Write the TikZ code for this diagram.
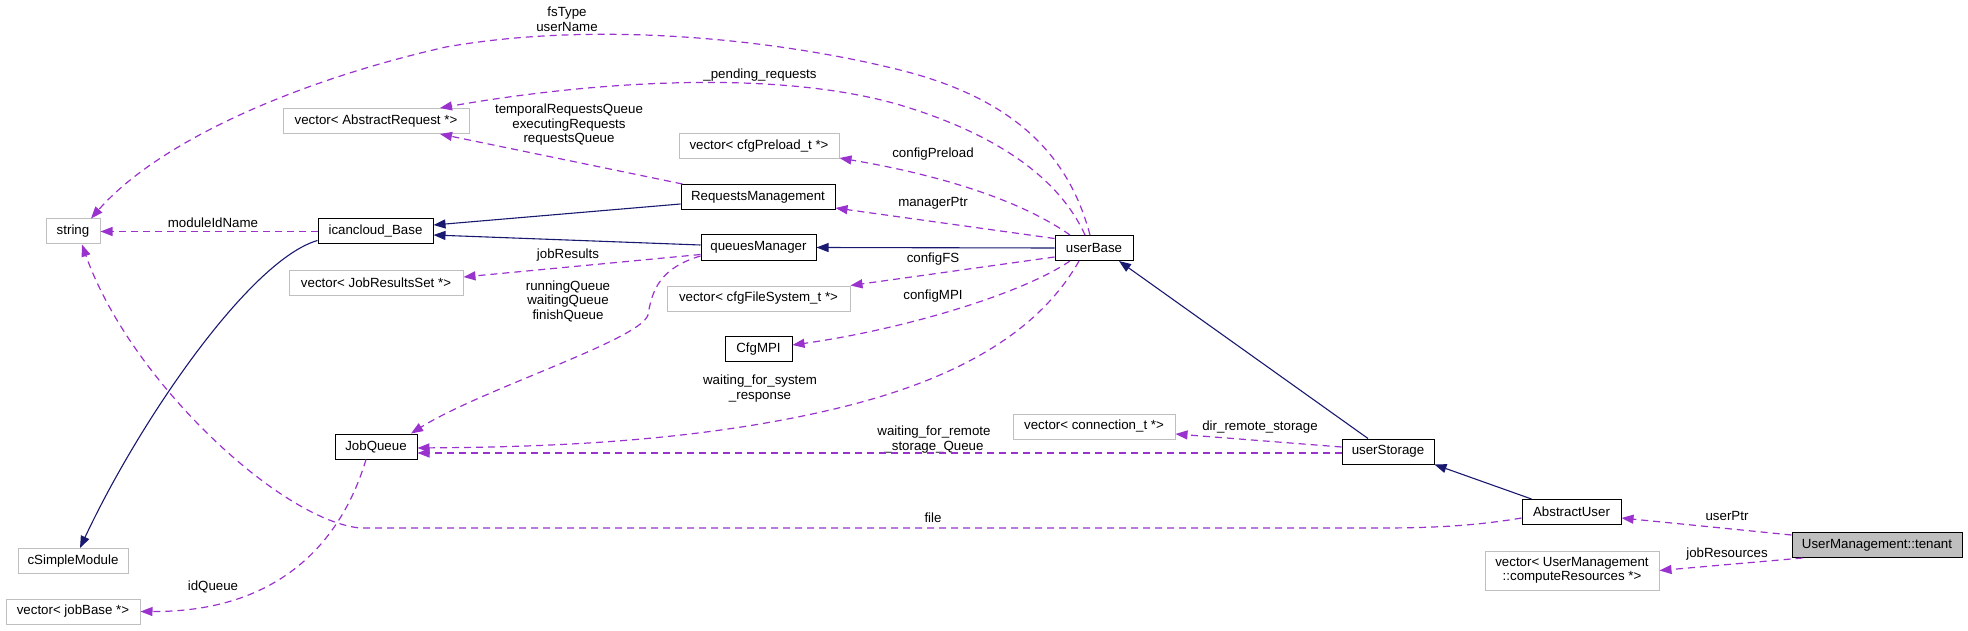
\documentclass[tikz,border=0pt]{standalone}
\usepackage{fontspec}
\setmainfont{Liberation Sans}
\usetikzlibrary{arrows.meta}
\definecolor{depcol}{HTML}{9A32CD}
\definecolor{inhcol}{HTML}{191970}
\definecolor{extcol}{HTML}{BFBFBF}
\begin{document}
\begin{tikzpicture}[x=1pt,y=-1pt,
  font=\fontsize{13.3}{14.5}\selectfont,
  cls/.style={draw=black, line width=1pt, inner sep=0pt, minimum height=25pt, align=center},
  ext/.style={draw=extcol, line width=1pt, inner sep=0pt, minimum height=25pt, align=center},
  depedge/.style={draw=depcol, line width=1.2pt, dash pattern=on 7pt off 5pt, -{Triangle[length=12pt,width=9pt]}},
  inhedge/.style={draw=inhcol, line width=1.1pt, -{Triangle[length=12pt,width=9pt]}},
  lbl/.style={align=center, inner sep=0pt}]
\useasboundingbox (0,0) rectangle (1968,631);

% nodes
\node[ext, minimum width=54pt]  (str)  at (73,231.5)   {string};
\node[ext, minimum width=186pt] (vAR)  at (376,121)    {vector< AbstractRequest *>};
\node[cls, minimum width=115pt] (icb)  at (375.5,231.5) {icancloud\_Base};
\node[ext, minimum width=174pt] (vJRS) at (376,282.5)  {vector< JobResultsSet *>};
\node[cls, minimum width=82pt]  (jq)   at (376,446.5)  {JobQueue};
\node[ext, minimum width=110pt] (csm)  at (73,561)     {cSimpleModule};
\node[ext, minimum width=134pt] (vJB)  at (73,611.5)   {vector< jobBase *>};
\node[ext, minimum width=160pt] (vCP)  at (759,146.5)  {vector< cfgPreload\_t *>};
\node[cls, minimum width=154pt] (rm)   at (758,197)    {RequestsManagement};
\node[cls, minimum width=115pt] (qm)   at (758.5,247.5) {queuesManager};
\node[ext, minimum width=183pt] (vFS)  at (758.5,298.5) {vector< cfgFileSystem\_t *>};
\node[cls, minimum width=67pt]  (mpi)  at (758.5,349)  {CfgMPI};
\node[cls, minimum width=78pt]  (ub)   at (1094,248)   {userBase};
\node[ext, minimum width=162pt] (vCT)  at (1094,426.5) {vector< connection\_t *>};
\node[cls, minimum width=92pt]  (us)   at (1388,451.5) {userStorage};
\node[cls, minimum width=99pt]  (au)   at (1571.5,512) {AbstractUser};
\node[ext, minimum width=174pt, minimum height=39pt] (vUM) at (1572,570.5) {vector< UserManagement\\::computeResources *>};
\node[cls, minimum width=170pt, fill=extcol] (ten) at (1877,545) {UserManagement::tenant};

% labels
\node[lbl] (l1)  at (567,19.5)  {fsType\\userName};
\node[lbl] (l2)  at (760,75)    {\_pending\_requests};
\node[lbl] (l3)  at (569,125)   {temporalRequestsQueue\\executingRequests\\requestsQueue};
\node[lbl] (l4)  at (213,223)   {moduleIdName};
\node[lbl] (l5)  at (568,255)   {jobResults};
\node[lbl] (l6)  at (568,301)   {runningQueue\\waitingQueue\\finishQueue};
\node[lbl] (l7)  at (933,154)   {configPreload};
\node[lbl] (l8)  at (933,203)   {managerPtr};
\node[lbl] (l9)  at (933,259)   {configFS};
\node[lbl] (l10) at (933,296)   {configMPI};
\node[lbl] (l11) at (760,388.5) {waiting\_for\_system\\\_response};
\node[lbl] (l12) at (934,439.5) {waiting\_for\_remote\\\_storage\_Queue};
\node[lbl] (l13) at (1260,427)  {dir\_remote\_storage};
\node[lbl] (l14) at (933,518)   {file};
\node[lbl] (l15) at (1727,516)  {userPtr};
\node[lbl] (l16) at (1727,554)  {jobResources};
\node[lbl] (l17) at (213,587)   {idQueue};

% inheritance edges
\draw[inhedge] ([yshift=-7pt]rm.west) -- ([yshift=6.5pt]icb.east);
\draw[inhedge] ([yshift=2.5pt]qm.west) -- ([yshift=-3.5pt]icb.east);
\draw[inhedge] (ub.west) -- (qm.east);
\draw[inhedge] ([xshift=-20pt]us.north) -- ([xshift=25pt]ub.south);
\draw[inhedge] ([xshift=-40pt]au.north) -- (us.south east);
\draw[inhedge] ([yshift=-9pt]icb.west) .. controls (250,260) and (140,420) .. ([xshift=7pt]csm.north);

% dependency edges
\draw[depedge] ([xshift=-4pt]ub.north) .. controls (1070,160) and (1020,100) .. (900,70)
  .. controls (780,40) and (600,20) .. (446,47)
  .. controls (300,80) and (160,140) .. ([xshift=18pt]str.north);
\draw[depedge] ([xshift=-9pt]ub.north) .. controls (1060,180) and (1000,135) .. (900,105)
  .. controls (780,70) and (600,80) .. ([xshift=64pt]vAR.north);
\draw[depedge] ([xshift=2pt]rm.north west) -- ([xshift=64pt]vAR.south);
\draw[depedge] (icb.west) -- (str.east);
\draw[depedge] ([xshift=-24pt]ub.north) .. controls (1020,200) and (940,175) .. ([yshift=1.5pt]vCP.south east);
\draw[depedge] ([yshift=-3.5pt]ub.north west) -- ([yshift=-11pt]rm.east);
\draw[depedge] ([yshift=4pt]ub.south west) -- (vFS.north east);
\draw[depedge] ([xshift=-24pt]ub.south) .. controls (1020,295) and (900,330) .. ([yshift=4pt]mpi.east);
\draw[depedge] ([xshift=-15pt]ub.south) .. controls (1040,330) and (960,380) .. (830,410)
  .. controls (680,445) and (520,447) .. ([yshift=-1.5pt]jq.east);
\draw[depedge] ([yshift=-1.5pt]us.west) -- ([yshift=-6.5pt]jq.east);
\draw[depedge] ([yshift=4.5pt]us.west) -- ([yshift=-7.5pt]vCT.east);
\draw[depedge] ([yshift=-6pt]au.west) .. controls (1480,525) and (1440,528) .. (1380,528)
  -- (360,528) .. controls (280,520) and (130,380) .. ([xshift=9pt]str.south);
\draw[depedge] ([yshift=-7pt]qm.west) -- ([yshift=5.5pt]vJRS.east);
\draw[depedge] ([yshift=-8.5pt]qm.west) .. controls (660,268) and (652,290) .. (648,315)
  .. controls (640,340) and (480,390) .. ([xshift=35pt]jq.north);
\draw[depedge] ([xshift=-10pt]jq.south) .. controls (345,530) and (290,612) .. (vJB.east);
\draw[depedge] ([yshift=10pt]ten.west) -- ([yshift=-6pt]au.east);
\draw[depedge] ([xshift=11pt]ten.south west) -- (vUM.east);
\end{tikzpicture}
\end{document}
